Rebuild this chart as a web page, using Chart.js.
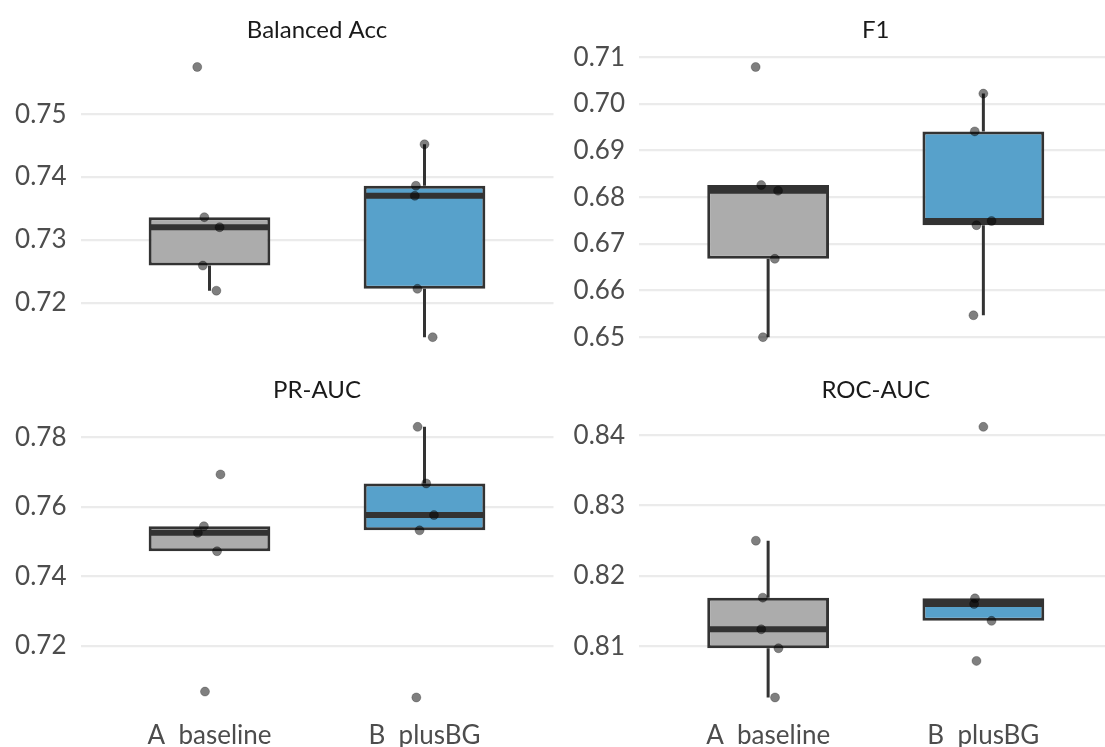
<!DOCTYPE html>
<html>
<head>
<meta charset="utf-8">
<script src="https://cdn.jsdelivr.net/npm/chart.js@4.4.1/dist/chart.umd.min.js"></script>
<style>
html, body { margin:0; padding:0; background:#fff; overflow:hidden; width:1105px; height:747px; }
canvas { position:absolute; }
</style>
</head>
<body>
<canvas id="c0" width="559" height="400" style="left:0px;top:0px"></canvas>
<canvas id="c1" width="558" height="400" style="left:560px;top:0px"></canvas>
<canvas id="c2" width="559" height="377" style="left:0px;top:370px"></canvas>
<canvas id="c3" width="558" height="377" style="left:560px;top:370px"></canvas>
<script>
// categories
var groups = ["A  baseline", "B  plusBG"];
var metrics = ["Balanced Acc", "F1", "PR-AUC", "ROC-AUC"];

// per-seed scores (5 runs per group)
var balA = [0.7575, 0.7336, 0.7320, 0.7259, 0.7219];
var balB = [0.7452, 0.7386, 0.7370, 0.7222, 0.7145];
var f1A  = [0.7079, 0.6826, 0.6814, 0.6668, 0.6500];
var f1B  = [0.7022, 0.6941, 0.6749, 0.6740, 0.6547];
var prA  = [0.7693, 0.7544, 0.7525, 0.7472, 0.7068];
var prB  = [0.7830, 0.7667, 0.7576, 0.7532, 0.7051];
var rocA = [0.8250, 0.8169, 0.8124, 0.8097, 0.8027];
var rocB = [0.8412, 0.8168, 0.8160, 0.8136, 0.8079];

// horizontal jitter of the points (category units)
var balJitA = [-0.057, -0.024, 0.047, -0.031, 0.032];
var balJitB = [0.000, -0.040, -0.045, -0.033, 0.038];
var f1JitA  = [-0.058, -0.032, 0.046, 0.031, -0.024];
var f1JitB  = [0.000, -0.040, 0.038, -0.032, -0.046];
var prJitA  = [0.051, -0.026, -0.054, 0.035, -0.021];
var prJitB  = [-0.032, 0.008, 0.044, -0.023, -0.038];
var rocJitA = [-0.057, -0.025, -0.032, 0.048, 0.032];
var rocJitB = [0.000, -0.039, -0.043, 0.038, -0.032];

// y tick labels
var balTicks = [0.72, 0.73, 0.74, 0.75];
var f1Ticks  = [0.65, 0.66, 0.67, 0.68, 0.69, 0.70, 0.71];
var prTicks  = [0.72, 0.74, 0.76, 0.78];
var rocTicks = [0.81, 0.82, 0.83, 0.84];

var boxColors = ["#acacac", "#57a1cb"];
var ink = "#333333";
var boxW = 0.556;

Chart.defaults.font.family = "Lato, 'Open Sans', sans-serif";
Chart.defaults.color = "#4d4d4d";

function quant(s, p) {
    var h = (s.length - 1) * p, lo = Math.floor(h);
    var hi = Math.min(lo + 1, s.length - 1);
    return s[lo] + (h - lo) * (s[hi] - s[lo]);
}

function stats(vals) {
    var s = vals.slice().sort(function(a, b){ return a - b; });
    var q1 = quant(s, 0.25), med = quant(s, 0.5), q3 = quant(s, 0.75);
    var iqr = q3 - q1;
    var lo = q1, hi = q3;
    s.forEach(function(v){
        if (v >= q1 - 1.5 * iqr && v < lo) lo = v;
        if (v <= q3 + 1.5 * iqr && v > hi) hi = v;
    });
    return {q1:q1, med:med, q3:q3, lo:lo, hi:hi};
}

function makePanel(id, title, valsA, valsB, jitA, jitB, yticks, lay) {
    var sets = [stats(valsA), stats(valsB)];
    var all = valsA.concat(valsB);
    var mn = Math.min.apply(null, all), mx = Math.max.apply(null, all);
    var pad = (mx - mn) * 0.05;

    var boxes = [], medians = [], whiskers = [];
    sets.forEach(function(st, i){
        var x = i + 1;
        boxes.push({x: x, y: [st.q1, st.q3]});
        medians.push({x: x - boxW / 2, y: st.med}, {x: x + boxW / 2, y: st.med}, {x: x, y: null});
        whiskers.push({x: x, y: st.lo}, {x: x, y: st.q1}, {x: x, y: null},
                      {x: x, y: st.q3}, {x: x, y: st.hi}, {x: x, y: null});
    });
    var pts = [];
    valsA.forEach(function(v, k){ pts.push({x: 1 + jitA[k], y: v}); });
    valsB.forEach(function(v, k){ pts.push({x: 2 + jitB[k], y: v}); });

    new Chart(document.getElementById(id), {
        type: "bar",
        data: {
            datasets: [
                { type: "scatter", data: pts, order: 0, pointRadius: 4.5,
                  backgroundColor: "rgba(0,0,0,0.5)", borderColor: "rgba(0,0,0,0.25)", borderWidth: 1 },
                { type: "line", data: medians, order: 1, borderColor: ink, borderWidth: 6,
                  pointRadius: 0, spanGaps: false },
                { type: "bar", data: boxes, order: 2, backgroundColor: boxColors,
                  borderColor: ink, borderWidth: 3, borderSkipped: false,
                  barPercentage: boxW + 0.01, categoryPercentage: 1 },
                { type: "line", data: whiskers, order: 3, borderColor: ink, borderWidth: 3,
                  pointRadius: 0, spanGaps: false }
            ]
        },
        options: {
            responsive: false,
            animation: false,
            devicePixelRatio: 1,
            layout: { padding: 0 },
            plugins: {
                legend: { display: false },
                tooltip: { enabled: false },
                title: { display: true, text: title, color: "#1a1a1a", fullSize: false,
                         font: { size: 24, weight: "normal" },
                         padding: { top: lay.tTop, bottom: lay.tBot } }
            },
            scales: {
                x: {
                    type: "linear", min: 0.4, max: 2.6, offset: false,
                    grid: { display: false, offset: false },
                    border: { display: false },
                    afterBuildTicks: function(sc){ sc.ticks = [{value: 1}, {value: 2}]; },
                    afterFit: function(sc){ sc.height = lay.xH; },
                    ticks: { display: lay.showX, padding: lay.showX ? 1 : 0, color: "#4d4d4d",
                             font: { size: 26 },
                             callback: function(v){ return groups[Math.round(v) - 1]; } }
                },
                y: {
                    type: "linear", min: mn - pad, max: mx + pad, beginAtZero: false,
                    grid: { color: "#ebebeb", lineWidth: 2.2, drawTicks: false },
                    border: { display: false },
                    afterBuildTicks: function(sc){ sc.ticks = yticks.map(function(v){ return {value: v}; }); },
                    afterFit: function(sc){ sc.width = lay.yW; },
                    ticks: { padding: 14, color: "#4d4d4d", font: { size: 26 },
                             callback: function(v){ return v.toFixed(2); } }
                }
            }
        }
    });
}

makePanel("c0", metrics[0], balA, balB, balJitA, balJitB, balTicks,
          {tTop: 16, tBot: 8.7, xH: 49.3, yW: 80.5, showX: false});
makePanel("c1", metrics[1], f1A, f1B, f1JitA, f1JitB, f1Ticks,
          {tTop: 16, tBot: 8.7, xH: 49.3, yW: 79, showX: false});
makePanel("c2", metrics[2], prA, prB, prJitA, prJitB, prTicks,
          {tTop: 6, tBot: 8.5, xH: 36, yW: 80.5, showX: true});
makePanel("c3", metrics[3], rocA, rocB, rocJitA, rocJitB, rocTicks,
          {tTop: 6, tBot: 8.5, xH: 36, yW: 79, showX: true});
</script>
</body>
</html>
